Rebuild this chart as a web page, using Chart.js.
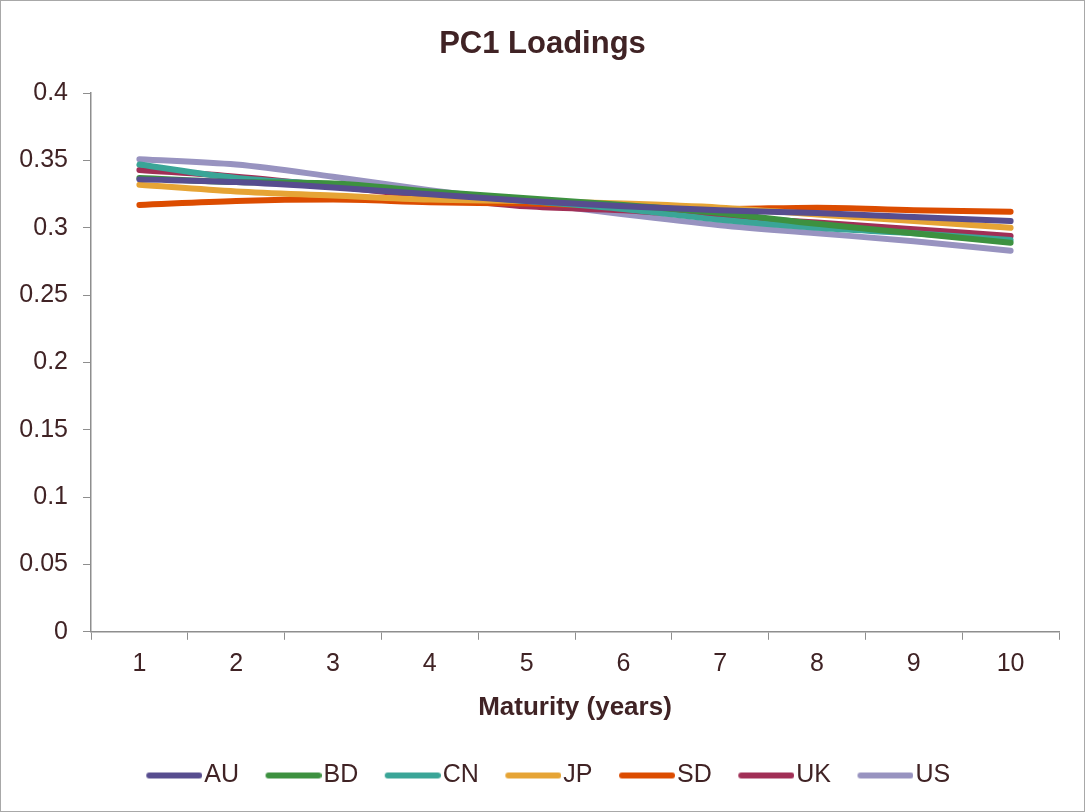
<!DOCTYPE html>
<html>
<head>
<meta charset="utf-8">
<title>PC1 Loadings</title>
<script src="https://cdn.jsdelivr.net/npm/chart.js@4/dist/chart.umd.min.js"></script>
<style>
    html, body { margin: 0; padding: 0; background: #fff; }
    #wrap { width: 1085px; height: 812px; position: relative; }
</style>
</head>
<body>
<div id="wrap"><canvas id="pcChart" width="1085" height="812"></canvas></div>
<script>
// Data
const maturities = ['1', '2', '3', '4', '5', '6', '7', '8', '9', '10'];
const yTickLabels = ['0', '0.05', '0.1', '0.15', '0.2', '0.25', '0.3', '0.35', '0.4'];

const seriesNames = ['AU', 'BD', 'CN', 'JP', 'SD', 'UK', 'US'];
const au = [0.336, 0.334, 0.330, 0.325, 0.320, 0.316, 0.313, 0.311, 0.308, 0.305];
const bd = [0.337, 0.334, 0.333, 0.327, 0.322, 0.317, 0.311, 0.303, 0.296, 0.289];
const cn = [0.347, 0.337, 0.332, 0.326, 0.320, 0.314, 0.306, 0.300, 0.296, 0.291];
const jp = [0.332, 0.327, 0.324, 0.321, 0.320, 0.318, 0.315, 0.310, 0.305, 0.300];
const sd = [0.317, 0.320, 0.321, 0.319, 0.318, 0.316, 0.314, 0.315, 0.313, 0.312];
const uk = [0.343, 0.338, 0.331, 0.323, 0.316, 0.313, 0.308, 0.304, 0.299, 0.294];
const us = [0.351, 0.347, 0.338, 0.328, 0.319, 0.310, 0.302, 0.296, 0.290, 0.283];

const seriesColors = ['#574d8f', '#3d9140', '#3aa597', '#e6a435', '#dc4c00', '#a12f56', '#9893c0'];

const textColor = '#402325';
const axisColor = '#8e8e8e';
const fontFamily = '"Liberation Sans", Arial, sans-serif';

// legend box is 57 wide, the line sample sits at its right end, close to the text
const legendBoxWidth = 57;
function legendSwatch(color) {
    const c = document.createElement('canvas');
    c.width = 78;
    c.height = 10;
    const g = c.getContext('2d');
    g.strokeStyle = color;
    g.lineWidth = 6;
    g.lineCap = 'round';
    g.beginPath();
    g.moveTo(25, 5);
    g.lineTo(75, 5);
    g.stroke();
    return c;
}

// thin grey frame round the whole picture
const frame = {
    id: 'frame',
    afterDraw(chart) {
        const ctx = chart.ctx;
        ctx.save();
        ctx.strokeStyle = '#a8a8a8';
        ctx.lineWidth = 1;
        ctx.strokeRect(0.5, 0.5, chart.width - 1, chart.height - 1);
        ctx.restore();
    }
};

// let the y tick labels use the left padding too, so they are not clipped
const widenYAxis = {
    id: 'widenYAxis',
    afterLayout(chart) {
        chart.scales.y.left = 0;
    }
};

const allValues = [au, bd, cn, jp, sd, uk, us];

const ctx = document.getElementById('pcChart').getContext('2d');
const pcChart = new Chart(ctx, {
    type: 'line',
    data: {
        labels: maturities,
        datasets: seriesNames.map((name, i) => ({
            label: name,
            data: allValues[i],
            borderColor: seriesColors[i],
            backgroundColor: seriesColors[i],
            borderWidth: 6,
            borderCapStyle: 'round',
            borderJoinStyle: 'round',
            pointRadius: 0,
            pointHoverRadius: 0,
            tension: 0.4,
            cubicInterpolationMode: 'monotone',
            fill: false
        }))
    },
    options: {
        responsive: false,
        animation: false,
        layout: { padding: { left: 26, right: 26, top: 0, bottom: 14 } },
        plugins: {
            title: {
                display: true,
                text: 'PC1 Loadings',
                color: textColor,
                font: { size: 31, weight: 'bold', family: fontFamily },
                padding: { top: 26, bottom: 30 }
            },
            legend: {
                position: 'bottom',
                labels: {
                    color: textColor,
                    font: { size: 25, family: fontFamily },
                    usePointStyle: true,
                    pointStyleWidth: legendBoxWidth,
                    boxHeight: 5,
                    padding: 15,
                    generateLabels(chart) {
                        const items = Chart.defaults.plugins.legend.labels.generateLabels(chart);
                        items.forEach(it => {
                            it.pointStyle = legendSwatch(seriesColors[it.datasetIndex]);
                            it.strokeStyle = seriesColors[it.datasetIndex];
                            it.fillStyle = seriesColors[it.datasetIndex];
                        });
                        return items;
                    }
                }
            },
            tooltip: { enabled: false }
        },
        scales: {
            x: {
                offset: true,
                grid: {
                    offset: true,
                    drawOnChartArea: false,
                    drawTicks: true,
                    tickLength: 8,
                    color: axisColor
                },
                border: { color: axisColor, width: 1.5 },
                ticks: {
                    color: textColor,
                    font: { size: 25, family: fontFamily },
                    padding: 9,
                    maxRotation: 0
                },
                title: {
                    display: true,
                    text: 'Maturity (years)',
                    color: textColor,
                    font: { size: 26, weight: 'bold', family: fontFamily },
                    padding: { top: 4, bottom: 25 }
                }
            },
            y: {
                min: 0,
                max: 0.4,
                afterFit(scale) { scale.width = 65; },
                afterBuildTicks(scale) {
                    scale.ticks = yTickLabels.map(t => ({ value: parseFloat(t) }));
                },
                grid: {
                    drawOnChartArea: false,
                    drawTicks: true,
                    tickLength: 8,
                    color: axisColor
                },
                border: { color: axisColor, width: 1.5 },
                ticks: {
                    color: textColor,
                    font: { size: 25, family: fontFamily },
                    padding: 15,
                    callback: (v, i) => yTickLabels[i]
                }
            }
        }
    },
    plugins: [frame, widenYAxis]
});
</script>
</body>
</html>
